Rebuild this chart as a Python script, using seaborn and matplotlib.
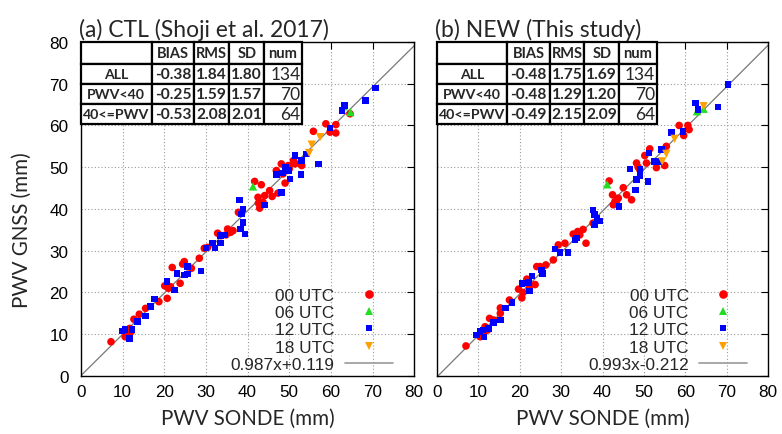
import pandas as pd
import matplotlib
matplotlib.use('Agg')
import matplotlib.pyplot as plt
import seaborn as sns
from matplotlib.lines import Line2D
from matplotlib.table import Table

# ---- datos: PWV SONDE (x) vs PWV GNSS (y), mm ----
# (a) CTL
ctl_00_x = [7.2, 10.6, 11.7, 12.7, 14.0, 15.5, 18.7, 20.1, 20.7, 21.5,
            21.9, 23.8, 24.4, 24.8, 26.5, 28.4, 29.6, 30.4, 32.8, 33.6,
            34.8, 35.9, 36.5, 37.8, 41.7, 42.5, 42.9, 43.3, 43.7, 44.1,
            45.3, 45.9, 46.9, 47.3, 48.1, 48.5, 49.0, 49.8, 51.0, 51.4,
            53.0, 55.8, 58.8, 59.8, 61.2, 61.2, 64.6, 11.2, 12.0, 21.0,
            35.2, 42.6, 50.0]
ctl_00_y = [8.2, 9.4, 11.4, 13.6, 14.8, 16.2, 17.8, 21.6, 18.6, 21.4,
            26.0, 22.2, 26.8, 27.4, 25.8, 28.2, 30.6, 30.8, 34.2, 33.6,
            33.8, 34.4, 34.8, 39.2, 46.6, 42.8, 40.2, 45.8, 41.6, 43.2,
            44.4, 43.0, 49.2, 43.8, 50.8, 48.4, 46.2, 50.4, 51.6, 50.8,
            50.4, 58.6, 60.4, 58.4, 60.2, 58.2, 62.8, 9.8, 10.6, 21.0,
            35.2, 41.4, 49.6]
ctl_06_x = [41.3, 63.1, 64.7]
ctl_06_y = [45.4, 64.6, 63.2]
ctl_12_x = [9.8, 10.6, 11.7, 12.3, 13.6, 15.5, 16.7, 17.7, 20.7, 22.5,
            23.0, 24.8, 25.6, 25.6, 28.8, 30.0, 31.6, 32.2, 33.5, 33.5,
            34.6, 38.1, 38.6, 38.9, 38.9, 38.3, 39.4, 44.1, 46.9, 48.1,
            48.4, 49.1, 49.8, 50.2, 51.4, 53.0, 52.8, 54.2, 57.0, 59.8,
            62.7, 63.3, 68.3, 70.7]
ctl_12_y = [10.8, 11.2, 9.0, 11.2, 13.0, 14.4, 16.6, 18.4, 22.6, 20.6,
            24.6, 24.2, 26.2, 24.4, 25.2, 30.6, 31.8, 30.6, 31.8, 33.6,
            33.8, 42.2, 38.8, 40.0, 36.8, 35.2, 34.0, 41.0, 48.2, 44.0,
            48.6, 50.0, 49.2, 47.2, 52.8, 51.6, 48.2, 53.2, 50.8, 59.4,
            63.6, 64.8, 66.0, 69.0]
ctl_18_x = [54.8, 55.4, 57.4]
ctl_18_y = [53.4, 55.4, 57.2]

# (b) NEW
new_00_x = [7.0, 10.4, 11.2, 11.6, 12.7, 13.7, 15.3, 15.3, 17.5, 19.7,
            20.5, 21.7, 22.3, 23.7, 24.1, 24.9, 26.3, 28.1, 29.3, 30.9,
            32.9, 33.7, 34.5, 35.3, 36.0, 37.7, 41.6, 42.4, 42.6, 43.0,
            43.8, 45.0, 45.8, 47.0, 48.2, 49.0, 50.2, 50.6, 51.4, 53.0,
            55.0, 55.4, 58.5, 59.6, 60.6, 60.9, 11.0, 12.2, 20.8, 34.0,
            43.4, 48.6]
new_00_y = [7.2, 9.4, 10.2, 11.8, 13.8, 13.4, 16.3, 15.0, 18.2, 20.8,
            18.7, 23.2, 21.4, 21.9, 26.2, 26.2, 26.6, 27.8, 31.4, 31.8,
            34.0, 33.4, 33.8, 35.1, 31.8, 36.6, 46.7, 43.4, 41.0, 41.8,
            42.6, 45.1, 43.4, 42.2, 51.0, 49.4, 52.8, 51.0, 54.4, 49.9,
            50.4, 55.0, 60.0, 57.6, 60.0, 59.0, 10.8, 11.0, 20.0, 34.6,
            42.0, 50.0]
new_06_x = [41.1, 62.8, 64.4]
new_06_y = [45.9, 63.4, 64.0]
new_12_x = [9.6, 10.4, 11.1, 11.4, 12.4, 13.7, 15.3, 16.5, 18.1, 20.5,
            22.1, 22.3, 22.9, 25.3, 25.5, 28.5, 29.7, 31.7, 33.3, 33.7,
            37.7, 38.1, 38.6, 39.4, 38.1, 44.0, 46.6, 47.9, 48.2, 49.0,
            49.0, 51.0, 51.2, 52.4, 53.8, 54.2, 56.6, 59.4, 62.5, 63.0,
            67.9, 70.3]
new_12_y = [9.8, 10.6, 11.0, 9.4, 11.4, 12.8, 13.4, 16.3, 17.6, 22.2,
            22.4, 20.3, 24.0, 25.4, 24.6, 30.4, 29.6, 29.6, 32.6, 33.0,
            39.8, 38.7, 37.8, 37.1, 36.3, 40.6, 49.6, 44.6, 47.0, 49.6,
            48.0, 46.6, 53.4, 51.4, 51.4, 54.2, 58.3, 58.6, 65.4, 63.8,
            64.4, 69.8]
new_18_x = [54.4, 55.4, 57.4, 64.4]
new_18_y = [51.4, 53.2, 56.8, 64.6]

# ajuste lineal (pendiente, intercepto)
ctl_fit = (0.987, 0.119)
new_fit = (0.993, -0.212)

# tabla de estadisticos
row_labels = ['ALL', 'PWV<40', '40<=PWV']
col_labels = ['BIAS', 'RMS', 'SD', 'num']
ctl_bias = [-0.38, -0.25, -0.53]
ctl_rms = [1.84, 1.59, 2.08]
ctl_sd = [1.80, 1.57, 2.01]
new_bias = [-0.48, -0.48, -0.49]
new_rms = [1.75, 1.29, 2.15]
new_sd = [1.69, 1.20, 2.09]
num = [134, 70, 64]

utc_labels = ['00 UTC', '06 UTC', '12 UTC', '18 UTC']
colors = {'00 UTC': '#ff0000', '06 UTC': '#22dd22', '12 UTC': '#0000ff', '18 UTC': '#ffa000'}
markers = {'00 UTC': 'o', '06 UTC': '^', '12 UTC': 's', '18 UTC': 'v'}
sizes = {'00 UTC': 30, '06 UTC': 36, '12 UTC': 22, '18 UTC': 36}

TICK_FONT = 'Liberation Sans'
LABEL_FONT = 'Lato'


def build_df(groups):
    frames = []
    for lab, (xs, ys) in zip(utc_labels, groups):
        frames.append(pd.DataFrame({'sonde': xs, 'gnss': ys, 'utc': lab}))
    return pd.concat(frames, ignore_index=True)


def draw_table(ax, bias, rms, sd):
    widths = [0.212, 0.128, 0.105, 0.105, 0.113]
    tbl = Table(ax, bbox=[0.0, 0.754, 0.663, 0.246])
    header = [''] + col_labels
    for c, txt in enumerate(header):
        cell = tbl.add_cell(0, c, widths[c], 1.1, text=txt, loc='center')
        cell.get_text().set_fontweight('bold')
        cell.get_text().set_fontsize(10.5)
    for r in range(3):
        vals = [row_labels[r], f'{bias[r]:.2f}', f'{rms[r]:.2f}', f'{sd[r]:.2f}', str(num[r])]
        for c, txt in enumerate(vals):
            loc = 'right' if c == 4 else 'center'
            cell = tbl.add_cell(r + 1, c, widths[c], 1.0, text=txt, loc=loc)
            t = cell.get_text()
            if c == 4:
                t.set_fontsize(12.5)
            elif c == 0:
                t.set_fontweight('bold')
                t.set_fontsize(10.2)
            else:
                t.set_fontweight('bold')
                t.set_fontsize(11.2)
    tbl.auto_set_font_size(False)
    for cell in tbl.get_celld().values():
        cell.set_linewidth(1.6)
        cell.set_edgecolor('black')
        cell.PAD = 0.04
        cell.get_text().set_fontfamily(LABEL_FONT)
    tbl.set_zorder(6)
    ax.add_table(tbl)


def draw_panel(ax, df, fit, title, bias, rms, sd, show_y):
    a, b = fit
    fx = [0, 80]
    ax.plot(fx, [a * v + b for v in fx], color='#777777', lw=0.9, zorder=2)
    sns.scatterplot(data=df, x='sonde', y='gnss', hue='utc', style='utc',
                    palette=colors, markers=markers, size='utc', sizes=sizes,
                    linewidth=0, legend=False, ax=ax, zorder=3)
    ax.set_xlim(0, 80)
    ax.set_ylim(0, 80)
    ax.set_xticks(range(0, 81, 10))
    ax.set_yticks(range(0, 81, 10))
    ax.grid(True, linestyle=(0, (1, 2)), color='#999999', lw=0.8)
    ax.set_axisbelow(True)
    ax.tick_params(direction='in', top=True, right=True, length=5, width=0.8,
                   labelsize=12.3, colors='black')
    ax.tick_params(axis='x', pad=6)
    ax.tick_params(axis='y', pad=9, labelleft=show_y)
    for lab in ax.get_xticklabels() + ax.get_yticklabels():
        lab.set_fontfamily(TICK_FONT)
    for s in ax.spines.values():
        s.set_color('black')
        s.set_linewidth(1.0)
    ax.set_xlabel('PWV SONDE (mm)', fontsize=14.8, fontfamily=LABEL_FONT, labelpad=6)
    if show_y:
        ax.set_ylabel('PWV GNSS (mm)', fontsize=14.8, fontfamily=LABEL_FONT)
        ax.yaxis.set_label_coords(-0.148, 0.44)
    else:
        ax.set_ylabel('')
    ax.text(-0.006, 1.006, title, transform=ax.transAxes, ha='left', va='bottom',
            fontsize=16.5, fontfamily=LABEL_FONT)

    draw_table(ax, bias, rms, sd)

    handles = [Line2D([], [], ls='none', marker=markers[u], color=colors[u],
                      markersize=6.2 if u != '12 UTC' else 5.0, markeredgewidth=0)
               for u in utc_labels]
    handles.append(Line2D([], [], color='#999999', lw=1.2))
    labels = utc_labels + [f'{a:.3f}x{b:+.3f}']
    ax.legend(handles, labels, loc='lower right', bbox_to_anchor=(0.937, 0.012),
              frameon=False, markerfirst=False, handlelength=2.8, handletextpad=0.6,
              labelspacing=0.13, borderpad=0, borderaxespad=0,
              prop={'family': TICK_FONT, 'size': 12.4})


def main():
    sns.set_theme(style='white')
    plt.rcParams['font.family'] = ['Lato', 'DejaVu Sans']

    df_ctl = build_df([(ctl_00_x, ctl_00_y), (ctl_06_x, ctl_06_y),
                       (ctl_12_x, ctl_12_y), (ctl_18_x, ctl_18_y)])
    df_new = build_df([(new_00_x, new_00_y), (new_06_x, new_06_y),
                       (new_12_x, new_12_y), (new_18_x, new_18_y)])

    fig = plt.figure(figsize=(7.82, 4.35), dpi=100)
    ax1 = fig.add_axes([0.1036, 0.1333, 0.426, 0.768])
    ax2 = fig.add_axes([0.5588, 0.1333, 0.4235, 0.768])

    draw_panel(ax1, df_ctl, ctl_fit, '(a) CTL (Shoji et al. 2017)',
               ctl_bias, ctl_rms, ctl_sd, True)
    draw_panel(ax2, df_new, new_fit, '(b) NEW (This study)',
               new_bias, new_rms, new_sd, False)

    fig.savefig('out.png', dpi=100, facecolor='white')


if __name__ == '__main__':
    main()
